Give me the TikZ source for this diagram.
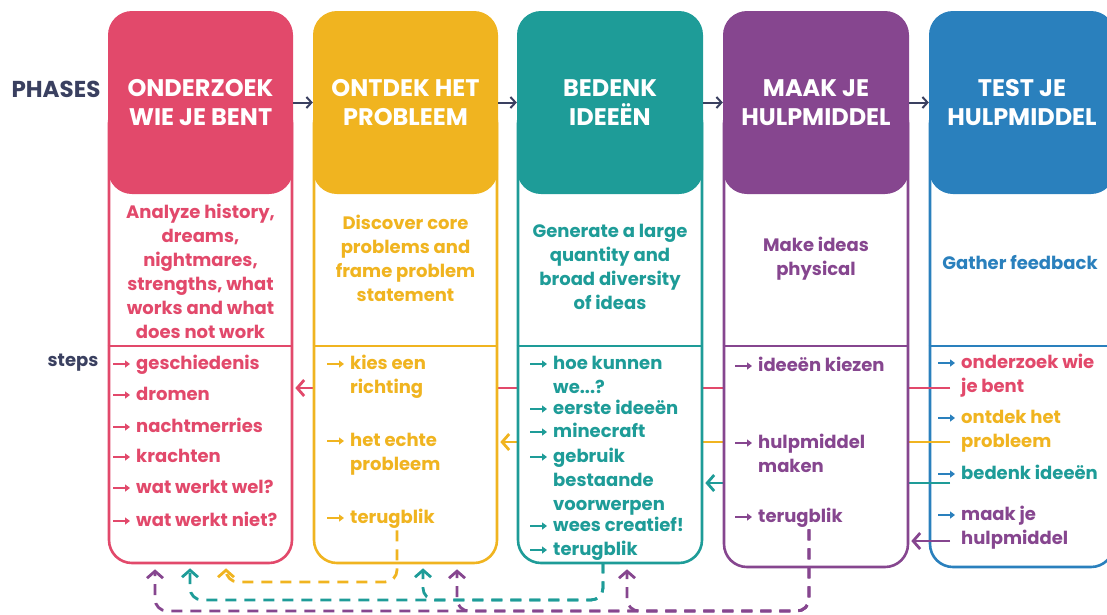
\documentclass[tikz,border=0pt]{standalone}
\usepackage{fontspec}
\setmainfont{Poppins}
\usetikzlibrary{arrows.meta}

\definecolor{cpink}{HTML}{E2496B}
\definecolor{cyellow}{HTML}{F0B420}
\definecolor{cteal}{HTML}{1E9C98}
\definecolor{cpurple}{HTML}{86468F}
\definecolor{cblue}{HTML}{2A80BD}
\definecolor{cnavy}{HTML}{3A4060}

\pgfdeclarelayer{back}
\pgfdeclarelayer{mid}
\pgfsetlayers{back,mid,main}

\newcommand{\headfont}{\fontsize{24}{29}\selectfont\bfseries}
\newcommand{\descfont}{\fontsize{18}{24}\selectfont\bfseries}

% one step: name, text colour, bullet colour, x, baseline y of first line, text
\newcommand{\stepitem}[6]{%
  \node[item, text=#2] (#1) at (#4,#5) {\begin{tabular}[t]{@{}l@{}}#6\end{tabular}};
  \draw[bul, #3] ([shift={(-23pt,5pt)}]#1.base west) -- ++(17,0);
}

\begin{document}
\begin{tikzpicture}[x=1pt, y=-1pt,
  head/.style={fill=#1, rounded corners=24pt, minimum height=183pt, inner sep=0pt,
    text=white, font=\headfont, align=center},
  body/.style={draw=#1, fill=white, line width=2.6pt, rounded corners=23pt, inner sep=0pt},
  desc/.style={font=\descfont, align=center, text=#1},
  item/.style={anchor=base west, inner sep=0pt, font=\descfont},
  bul/.style={line width=1.7pt, -{Triangle[length=5pt,width=7pt]}},
  divider/.style={line width=2.6pt},
  harr/.style={cnavy, line width=2pt, -{Straight Barb[length=5pt,width=11pt]}},
  fb/.style={line width=2.8pt, shorten >=2pt, -{Straight Barb[length=7pt,width=16pt]}},
  dfb/.style={line width=2.8pt, dash pattern=on 11pt off 8pt, rounded corners=12pt,
    -{Straight Barb[length=7pt,width=16pt]}},
  label/.style={text=cnavy, inner sep=0pt, font=\bfseries}]

\useasboundingbox (0,0) rectangle (1107,614);

% ---------- columns ----------
\node[body=cpink, minimum width=183pt, minimum height=463pt] (c1b) at (200.5,331.5) {};
\node[head=cpink, minimum width=185pt] (h1) at (200.5,102.5) {ONDERZOEK\\WIE JE BENT};
\draw[divider, cpink] (c1b.west |- 0,346) -- (c1b.east |- 0,346);

\node[body=cyellow, minimum width=183pt, minimum height=463pt] (c2b) at (405.5,331.5) {};
\node[head=cyellow, minimum width=185pt] (h2) at (405.5,102.5) {ONTDEK HET\\PROBLEEM};
\draw[divider, cyellow] (c2b.west |- 0,346) -- (c2b.east |- 0,346);

\node[body=cteal, minimum width=184pt, minimum height=463pt] (c3b) at (610,331.5) {};
\node[head=cteal, minimum width=186pt] (h3) at (610,102.5) {BEDENK\\IDEEËN};
\draw[divider, cteal] (c3b.west |- 0,346) -- (c3b.east |- 0,346);

\node[body=cpurple, minimum width=184pt, minimum height=467pt] (c4b) at (816,333.5) {};
\node[head=cpurple, minimum width=186pt] (h4) at (816,102.5) {MAAK JE\\HULPMIDDEL};
\draw[divider, cpurple] (c4b.west |- 0,346) -- (c4b.east |- 0,346);

\begin{pgfonlayer}{back}
\node[body=cblue, minimum width=184pt, minimum height=467pt] (c5b) at (1022,333.5) {};
\node[head=cblue, minimum width=186pt] (h5) at (1022,102.5) {TEST JE\\HULPMIDDEL};
\draw[divider, cblue] (c5b.west |- 0,346) -- (c5b.east |- 0,346);
\end{pgfonlayer}

% ---------- row labels ----------
\node[label, font=\fontsize{23}{28}\selectfont\bfseries] (phases) at (56,89) {PHASES};
\node[label, font=\descfont] (steps) at (73,363) {steps};

% ---------- phase order ----------
\draw[harr] (h1.east) -- (h2.west);
\draw[harr] (h2.east) -- (h3.west);
\draw[harr] (h3.east) -- (h4.west);
\draw[harr] (h4.east) -- (h5.west);

% ---------- descriptions ----------
\node[desc=cpink] (d1) at (200.5,271) {Analyze history,\\dreams,\\nightmares,\\strengths, what\\works and what\\does not work};
\node[desc=cyellow] (d2) at (405.5,258) {Discover core\\problems and\\frame problem\\statement};
\node[desc=cteal] (d3) at (610,267) {Generate a large\\quantity and\\broad diversity\\of ideas};
\node[desc=cpurple] (d4) at (816,259) {Make ideas\\physical};
\node[desc=cblue] (d5) at (1020,263) {Gather feedback};

% ---------- steps ----------
\stepitem{s11}{cpink}{cpink}{136}{369}{geschiedenis}
\stepitem{s12}{cpink}{cpink}{136}{400}{dromen}
\stepitem{s13}{cpink}{cpink}{136}{432}{nachtmerries}
\stepitem{s14}{cpink}{cpink}{136}{462}{krachten}
\stepitem{s15}{cpink}{cpink}{136}{493}{wat werkt wel?}
\stepitem{s16}{cpink}{cpink}{136}{526}{wat werkt niet?}

\stepitem{s21}{cyellow}{cyellow}{350}{369}{kies een\\richting}
\stepitem{s22}{cyellow}{cyellow}{350}{446}{het echte\\probleem}
\stepitem{s23}{cyellow}{cyellow}{350}{523}{terugblik}

\stepitem{s31}{cteal}{cteal}{553}{369}{hoe kunnen\\we...?}
\stepitem{s32}{cteal}{cteal}{553}{414}{eerste ideeën}
\stepitem{s33}{cteal}{cteal}{553}{437}{minecraft}
\stepitem{s34}{cteal}{cteal}{553}{462}{gebruik\\bestaande\\voorwerpen}
\stepitem{s35}{cteal}{cteal}{553}{531}{wees creatief!}
\stepitem{s36}{cteal}{cteal}{553}{555}{terugblik}

\stepitem{s41}{cpurple}{cpurple}{758}{371}{ideeën kiezen}
\stepitem{s42}{cpurple}{cpurple}{758}{448}{hulpmiddel\\maken}
\stepitem{s43}{cpurple}{cpurple}{758}{522}{terugblik}

\stepitem{s51}{cpink}{cblue}{961}{368}{onderzoek wie\\je bent}
\stepitem{s52}{cyellow}{cblue}{961}{423}{ontdek het\\probleem}
\stepitem{s53}{cteal}{cblue}{961}{479}{bedenk ideeën}
\stepitem{s54}{cpurple}{cblue}{961}{520}{maak je\\hulpmiddel}

% ---------- feedback from testing back to each phase ----------
\coordinate (fp) at (950,388);
\coordinate (fy) at (950,442);
\coordinate (ft) at (950,483);
\coordinate (fu) at (950,541);
\begin{pgfonlayer}{mid}
\draw[fb, cpink]   (fp) -- (fp -| c1b.east);
\draw[fb, cyellow] (fy) -- (fy -| c2b.east);
\draw[fb, cteal]   (ft) -- (ft -| c3b.east);
\draw[fb, cpurple] (fu) -- (fu -| c4b.east);
\end{pgfonlayer}

% ---------- looking back (terugblik) ----------
\coordinate (ay1) at (c1b.south -| 226,0);
\coordinate (at1) at (c1b.south -| 190,0);
\coordinate (at2) at (c2b.south -| 423,0);
\coordinate (au1) at (c1b.south -| 155,0);
\coordinate (au2) at (c2b.south -| 457,0);
\coordinate (au3) at (c3b.south -| 627,0);

\draw[dfb, cyellow] (s23.south -| 397,0) |- (226,582) -- ([yshift=-4pt]ay1);

\draw[dfb, cteal] (s36.south -| 603,0) |- (190,600) -- ([yshift=-4pt]at1);
\draw[dfb, cteal] (s36.south -| 603,0) |- (423,600) -- ([yshift=-4pt]at2);

\draw[dfb, cpurple] (s43.south -| 809,0) |- (155,611) -- ([yshift=-5pt]au1);
\draw[dfb, cpurple] (s43.south -| 809,0) |- (457,611) -- ([yshift=-5pt]au2);
\draw[dfb, cpurple] (s43.south -| 809,0) |- (627,611) -- ([yshift=-5pt]au3);

\end{tikzpicture}
\end{document}
